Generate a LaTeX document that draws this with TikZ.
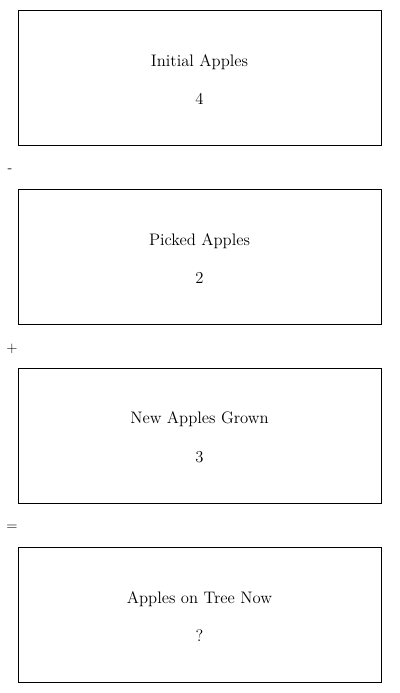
\documentclass[tikz,border=0pt]{standalone}
\usetikzlibrary{positioning}
\tikzset{
	every path/.style={line width=0.75pt},
	quantity/.style={
		draw,
		rectangle,
		minimum width=272.25pt,
		minimum height=101.25pt,
		inner sep=0pt,
		align=center,
		font=\fontsize{12.5}{14}\selectfont,
	},
	operator/.style={
		inner sep=0pt,
		font=\fontsize{11}{13}\selectfont,
	},
}

\begin{document}
\begin{tikzpicture}[x=0.75pt,y=-0.75pt]
	\useasboundingbox (0,0) rectangle (400,693);

	\node[quantity] (initial) at (199.5,77.5)  {\rule{0pt}{12pt}Initial Apples\\[15pt]4};
	\node[quantity] (picked)  at (199.5,256.5) {\rule{0pt}{12pt}Picked Apples\\[15pt]2};
	\node[quantity] (grown)   at (199.5,435.5) {\rule{0pt}{12pt}New Apples Grown\\[15pt]3};
	\node[quantity] (now)     at (199.5,614.5) {\rule{0pt}{12pt}Apples on Tree Now\\[15pt]?};

	\node[operator] (minus)  at (10,171) {-};
	\node[operator] (plus)   at (12,349) {+};
	\node[operator] (equals) at (12,528) {=};

\end{tikzpicture}
\end{document}
